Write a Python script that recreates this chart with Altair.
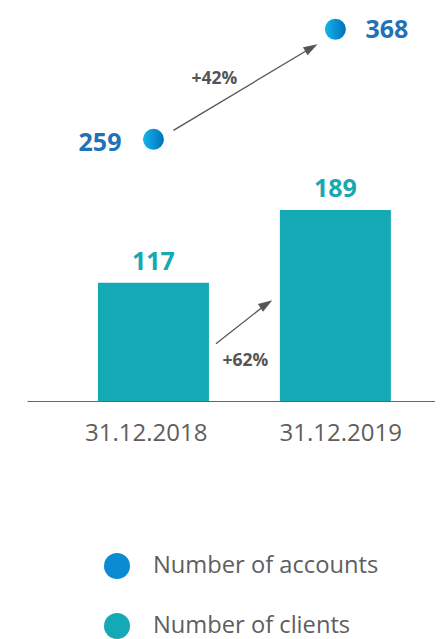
import altair as alt
import pandas as pd

# ---- data ----
dates = ["31.12.2018", "31.12.2019"]
clients = [117, 189]
accounts = [259, 368]
growth_clients = "+62%"
growth_accounts = "+42%"
series = ["Number of accounts", "Number of clients"]

# ---- style ----
TEAL = "#15A9B5"
TEAL_TXT = "#17A8B2"
BLUE = "#0A8CD3"
BLUE_TXT = "#2271B7"
GREY = "#5E5E5E"
ARROW = "#555555"
FONT = "Open Sans"
LABEL_SHIFT_PX = [-8, 5]  # small horizontal nudges of the date labels
STEP_PX = 186.5

idx = list(range(len(dates)))
df_c = pd.DataFrame({"i": idx, "v": clients, "date": dates, "series": series[1]})
df_a = pd.DataFrame({"i": idx, "v": accounts, "date": dates, "series": series[0]})

# ternary label expression built from the dates list
label_expr = "'" + dates[-1] + "'"
for k in reversed(range(len(dates) - 1)):
    label_expr = f"round(datum.value) == {k} ? '{dates[k]}' : ({label_expr})"
tick_vals = [i + s / STEP_PX for i, s in zip(idx, LABEL_SHIFT_PX)]

xscale = alt.Scale(domain=[-0.6676, 1.5201], nice=False, zero=False)
yscale = alt.Scale(domain=[0, 389], nice=False, zero=True)

xaxis = alt.Axis(values=tick_vals, labelExpr=label_expr, title=None, ticks=False, tickSize=0,
                 grid=False, domainColor="#666666", domainWidth=1, labelFontSize=24,
                 labelFont=FONT, labelColor=GREY, labelPadding=20, labelFlush=False)


def X(field):
    return alt.X(f"{field}:Q", scale=xscale, axis=xaxis)


def Y(field):
    return alt.Y(f"{field}:Q", scale=yscale, axis=None)


color = alt.Color("series:N",
                  scale=alt.Scale(domain=series, range=[BLUE, TEAL]),
                  legend=alt.Legend(orient="none", legendX=77, legendY=545, title=None,
                                    direction="vertical", symbolType="circle",
                                    symbolSize=676, symbolStrokeWidth=0, symbolOpacity=1,
                                    labelFontSize=23.7, labelFont=FONT, labelColor=GREY,
                                    labelOffset=23, rowPadding=34, padding=0,
                                    labelLimit=400))

bars = alt.Chart(df_c).mark_bar(size=111).encode(x=X("i"), y=Y("v"), color=color)

bar_labels = alt.Chart(df_c).mark_text(
    font=FONT, fontSize=25, fontWeight="bold", color=TEAL_TXT,
    align="center", baseline="alphabetic", dy=-13
).encode(x=X("i"), y=Y("v"), text="v:Q")

grad = alt.Gradient(gradient="linear", x1=0, x2=1, y1=0, y2=0,
                    stops=[alt.GradientStop(offset=0, color="#14B6E8"),
                           alt.GradientStop(offset=1, color="#0070BC")])
points = alt.Chart(df_a).mark_circle(size=441, opacity=1, fill=grad).encode(
    x=X("i"), y=Y("v"))

acc_left = alt.Chart(df_a.iloc[[0]]).mark_text(
    font=FONT, fontSize=25, fontWeight="bold", color=BLUE_TXT,
    align="right", baseline="alphabetic", dx=-32, dy=12
).encode(x=X("i"), y=Y("v"), text="v:Q")

acc_right = alt.Chart(df_a.iloc[[1]]).mark_text(
    font=FONT, fontSize=25, fontWeight="bold", color=BLUE_TXT,
    align="left", baseline="alphabetic", dx=30, dy=9
).encode(x=X("i"), y=Y("v"), text="v:Q")

# arrows
arr_a = pd.DataFrame({"x0": [idx[0]], "y0": [accounts[0]], "x1": [idx[1]], "y1": [accounts[1]]})
arr_c = pd.DataFrame({"x0": [idx[0]], "y0": [clients[0]], "x1": [idx[1]], "y1": [clients[1]]})

rule_a = alt.Chart(arr_a).mark_rule(
    color=ARROW, strokeWidth=1.3, xOffset=20, yOffset=-9, x2Offset=-24, y2Offset=18.5
).encode(x=X("x0"), y=Y("y0"), x2="x1:Q", y2="y1:Q")

rule_c = alt.Chart(arr_c).mark_rule(
    color=ARROW, strokeWidth=1.3, xOffset=62.5, yOffset=61, x2Offset=-69, y2Offset=94
).encode(x=X("x0"), y=Y("y0"), x2="x1:Q", y2="y1:Q")

head_shape = "M0,-1 L0.65,1 L-0.65,1 Z"
head_a = alt.Chart(arr_a).mark_point(
    shape=head_shape, size=200, filled=True, opacity=1, color=ARROW, angle=60,
    xOffset=-24, yOffset=18.5
).encode(x=X("x1"), y=Y("y1"))
head_c = alt.Chart(arr_c).mark_point(
    shape=head_shape, size=200, filled=True, opacity=1, color=ARROW, angle=57,
    xOffset=-69, yOffset=94
).encode(x=X("x1"), y=Y("y1"))

g_a = alt.Chart(arr_a.assign(t=growth_accounts)).mark_text(
    font=FONT, fontSize=17.5, fontWeight="bold", color=ARROW,
    align="center", baseline="alphabetic", dx=61, dy=-55
).encode(x=X("x0"), y=Y("y0"), text="t:N")
g_c = alt.Chart(arr_c.assign(t=growth_clients)).mark_text(
    font=FONT, fontSize=17.5, fontWeight="bold", color=ARROW,
    align="center", baseline="alphabetic", dx=92, dy=83
).encode(x=X("x0"), y=Y("y0"), text="t:N")

chart = alt.layer(
    bars, bar_labels, rule_a, head_a, rule_c, head_c, points, acc_left, acc_right, g_a, g_c
).properties(
    width=408, height=393,
    autosize=alt.AutoSizeParams(type="none"),
    padding={"left": 19, "top": 0, "right": 0, "bottom": 238},
    background="white",
).configure_view(stroke=None)

chart.save("out.html", embed_options={"renderer": "svg", "actions": False})
